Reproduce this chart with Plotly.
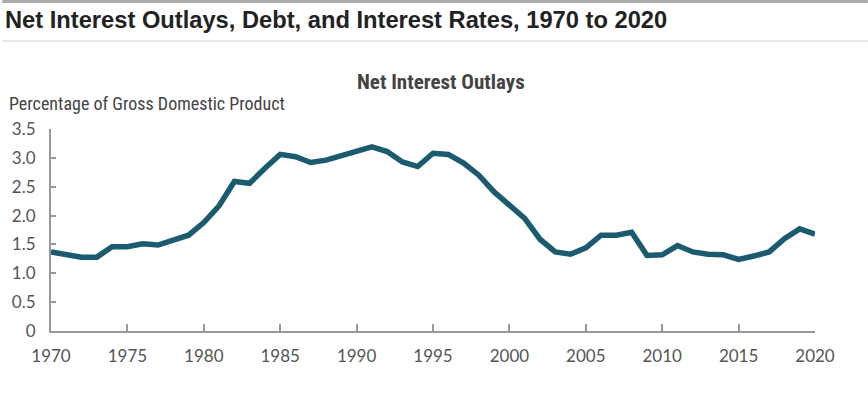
import plotly.graph_objects as go

years = list(range(1970, 2021))
net_interest = [1.37, 1.33, 1.28, 1.28, 1.46, 1.46, 1.51, 1.49, 1.57, 1.66,
                1.88, 2.17, 2.59, 2.56, 2.82, 3.06, 3.02, 2.92, 2.96, 3.04,
                3.13, 3.19, 3.11, 2.93, 2.85, 3.08, 3.06, 2.91, 2.70, 2.41,
                2.18, 1.95, 1.59, 1.37, 1.33, 1.44, 1.66, 1.66, 1.71, 1.31,
                1.32, 1.48, 1.37, 1.33, 1.32, 1.24, 1.30, 1.37, 1.60, 1.77,
                1.68]
x_ticks = list(range(1970, 2021, 5))
y_ticks = [0, 0.5, 1.0, 1.5, 2.0, 2.5, 3.0, 3.5]
y_labels = ["0", "0.5", "1.0", "1.5", "2.0", "2.5", "3.0", "3.5"]

W, H = 868, 399
L, R, T, B = 49, 815, 129, 331
pw, ph = R - L, B - T

def px(x):
    return (x - L) / pw

def py(y):
    return (B - y) / ph

cond = "Liberation Sans Narrow, Roboto Condensed, Arial Narrow, sans-serif"
tickfont = dict(family="Lato, Open Sans, sans-serif", size=17, color="#555555")

fig = go.Figure()
fig.add_trace(go.Scatter(x=years, y=net_interest, mode="lines",
                         line=dict(color="#1b5b6f", width=5.5),
                         hoverinfo="x+y", showlegend=False))

fig.update_layout(
    width=W, height=H,
    margin=dict(l=L, r=W - R, t=T, b=H - B),
    paper_bgcolor="white", plot_bgcolor="white",
    title=dict(text="<b>Net Interest Outlays, Debt, and Interest Rates, 1970 to 2020</b>",
               x=5 / W, xanchor="left", xref="container",
               y=1 - 20 / H, yanchor="middle", yref="container",
               font=dict(family="Liberation Sans, Arial, sans-serif", size=23.7, color="#222222")),
    xaxis=dict(range=[1970, 2020], tickvals=x_ticks, ticktext=[str(v) for v in x_ticks],
               showgrid=False, zeroline=False, showline=True, linecolor="#999999", linewidth=2,
               ticks="inside", ticklen=7, tickwidth=2, tickcolor="#999999",
               tickfont=tickfont, ticklabelstandoff=9, fixedrange=True),
    yaxis=dict(range=[0, 3.5], tickvals=y_ticks, ticktext=y_labels,
               showgrid=False, zeroline=False, showline=True, linecolor="#999999", linewidth=2,
               ticks="inside", ticklen=5, tickwidth=2, tickcolor="#999999",
               tickfont=tickfont, ticklabelstandoff=10, fixedrange=True),
    shapes=[
        dict(type="line", xref="paper", yref="paper", x0=px(0), x1=px(W), y0=py(1.5), y1=py(1.5),
             line=dict(color="#aaaaaa", width=3)),
        dict(type="line", xref="paper", yref="paper", x0=px(0), x1=px(W), y0=py(41), y1=py(41),
             line=dict(color="#cccccc", width=1)),
    ],
    annotations=[
        dict(text="<b>Net Interest Outlays</b>", xref="paper", yref="paper",
             x=px(440), y=py(82), xanchor="center", yanchor="middle", showarrow=False,
             font=dict(family=cond, size=21, color="#444444")),
        dict(text="Percentage of Gross Domestic Product", xref="paper", yref="paper",
             x=px(5), y=py(104), xanchor="left", yanchor="middle", showarrow=False,
             font=dict(family=cond, size=18, color="#444444")),
    ],
)

fig.write_html("out.html", config={"displayModeBar": False},
               post_script="document.body.style.margin='0';document.body.style.overflow='hidden';")
